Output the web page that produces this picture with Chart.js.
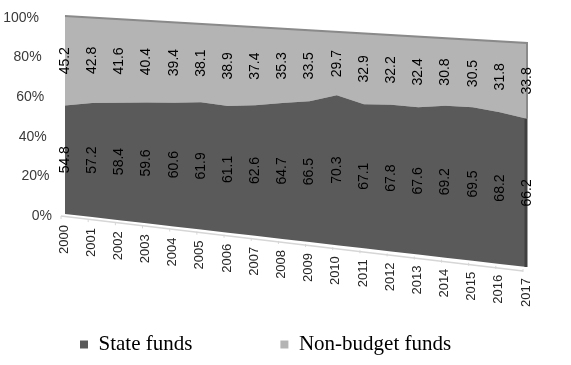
<!DOCTYPE html>
<html>
<head>
<meta charset="utf-8">
<script src="https://cdn.jsdelivr.net/npm/chart.js@4.4.0/dist/chart.umd.min.js"></script>
<style>
    body { margin: 0; background: #ffffff; }
    #grafico-wrap { width: 571px; height: 365px; }
</style>
</head>
<body>
<div id="grafico-wrap"><canvas id="graficoFundos"></canvas></div>
<script>
// Dados do gráfico
var anos = ["2000", "2001", "2002", "2003", "2004", "2005", "2006", "2007", "2008",
    "2009", "2010", "2011", "2012", "2013", "2014", "2015", "2016", "2017"];
var fundosEstatais = [54.8, 57.2, 58.4, 59.6, 60.6, 61.9, 61.1, 62.6, 64.7,
    66.5, 70.3, 67.1, 67.8, 67.6, 69.2, 69.5, 68.2, 66.2];
var fundosExtra = [45.2, 42.8, 41.6, 40.4, 39.4, 38.1, 38.9, 37.4, 35.3,
    33.5, 29.7, 32.9, 32.2, 32.4, 30.8, 30.5, 31.8, 33.8];
// série auxiliar (base zero) para o preenchimento acompanhar o "chão" inclinado
var baseZero = [0, 0, 0, 0, 0, 0, 0, 0, 0, 0, 0, 0, 0, 0, 0, 0, 0, 0];
var ticksY = [0, 20, 40, 60, 80, 100];

// Inclinação da perspectiva (em pixels, no lado direito)
var desnivelTopo = 27;
var desnivelBase = 53;

// Projeta um ponto da área plana para o quadrilátero em perspectiva
function projetar(area, x, y) {
    var u = (x - area.left) / (area.right - area.left);
    var v = (y - area.top) / (area.bottom - area.top);
    var yTopo = area.top + u * desnivelTopo;
    var yBase = area.bottom + u * desnivelBase;
    return { x: x, y: yTopo + v * (yBase - yTopo) };
}

var perspectiva = {
    id: "perspectiva",
    afterDatasetsUpdate: function (chart) {
        var area = chart.chartArea;
        chart.$areaPlana = { left: area.left, right: area.right, top: area.top, bottom: area.bottom };
        chart.data.datasets.forEach(function (ds, i) {
            chart.getDatasetMeta(i).data.forEach(function (pt) {
                var p = projetar(area, pt.x, pt.y);
                pt.x = p.x;
                pt.y = p.y;
            });
        });
    },
    beforeDatasetsDraw: function (chart) {
        var area = chart.$areaPlana;
        var ctx = chart.ctx;
        var xs = chart.scales.x;
        // amplia a área para o preenchimento não ser cortado
        chart.$areaOriginal = chart.chartArea;
        chart.chartArea = {
            left: area.left, right: area.right, top: 0, bottom: chart.height,
            width: area.right - area.left, height: chart.height
        };
        // "chão" claro com marcas
        var a = projetar(area, area.left, area.bottom);
        var b = projetar(area, area.right, area.bottom);
        ctx.save();
        ctx.strokeStyle = "#d6d6d6";
        ctx.lineWidth = 1.5;
        ctx.beginPath();
        ctx.moveTo(a.x - 4, a.y + 2);
        ctx.lineTo(b.x - 4, b.y + 4);
        ctx.stroke();
        ctx.lineWidth = 1;
        for (var i = 0; i < anos.length; i++) {
            var p = projetar(area, xs.getPixelForValue(i), area.bottom);
            ctx.beginPath();
            ctx.moveTo(p.x - 4, p.y + 2);
            ctx.lineTo(p.x - 4, p.y + 5);
            ctx.stroke();
        }
        ctx.restore();
    },
    afterDatasetsDraw: function (chart) {
        chart.chartArea = chart.$areaOriginal;
        var area = chart.$areaPlana;
        var ctx = chart.ctx;
        var xs = chart.scales.x;
        var ys = chart.scales.y;
        var n = anos.length;

        ctx.save();
        // borda superior e lateral direita
        var t0 = projetar(area, area.left, ys.getPixelForValue(100));
        var t1 = projetar(area, area.right, ys.getPixelForValue(100));
        var m1 = projetar(area, area.right, ys.getPixelForValue(fundosEstatais[n - 1]));
        var b1 = projetar(area, area.right, ys.getPixelForValue(0));
        ctx.strokeStyle = "#8a8a8a";
        ctx.lineWidth = 2;
        ctx.beginPath();
        ctx.moveTo(t0.x, t0.y);
        ctx.lineTo(t1.x, t1.y);
        ctx.lineTo(m1.x, m1.y);
        ctx.stroke();
        ctx.strokeStyle = "#404040";
        ctx.lineWidth = 3;
        ctx.beginPath();
        ctx.moveTo(m1.x - 1, m1.y);
        ctx.lineTo(b1.x - 1, b1.y);
        ctx.stroke();

        // rótulos dos valores (girados)
        ctx.fillStyle = "#000000";
        ctx.font = "14px 'Liberation Sans', Arial, sans-serif";
        ctx.textAlign = "center";
        ctx.textBaseline = "middle";
        for (var i = 0; i < n; i++) {
            var x = xs.getPixelForValue(i);
            var pe = projetar(area, x, ys.getPixelForValue(fundosEstatais[i] / 2));
            var px = projetar(area, x, ys.getPixelForValue(fundosEstatais[i] + fundosExtra[i] / 2));
            [[pe, fundosEstatais[i]], [px, fundosExtra[i]]].forEach(function (r) {
                ctx.save();
                ctx.translate(r[0].x, r[0].y);
                ctx.rotate(-Math.PI / 2);
                ctx.fillText(r[1].toFixed(1), 0, 0);
                ctx.restore();
            });
        }

        // rótulos do eixo X (anos)
        ctx.fillStyle = "#262626";
        ctx.font = "13px 'Liberation Sans', Arial, sans-serif";
        ctx.textAlign = "right";
        for (var j = 0; j < n; j++) {
            var p = projetar(area, xs.getPixelForValue(j), area.bottom);
            ctx.save();
            ctx.translate(p.x - 1, p.y + 11);
            ctx.rotate(-Math.PI / 2);
            ctx.fillText(anos[j], 0, 0);
            ctx.restore();
        }

        // rótulos do eixo Y
        ctx.font = "14px 'Liberation Sans', Arial, sans-serif";
        ctx.fillStyle = "#3a3a3a";
        ctx.textAlign = "right";
        ticksY.forEach(function (t) {
            var py = ys.getPixelForValue(t);
            var v = (py - area.top) / (area.bottom - area.top);
            var p = projetar(area, area.left, py);
            ctx.fillText(t + "%", area.left - 26 + 13 * v, p.y + 2);
        });
        ctx.restore();
    }
};

function desenharGrafico() {
    var ctx = document.getElementById("graficoFundos");
    var chart = new Chart(ctx, {
        type: "line",
        data: {
            labels: anos,
            datasets: [
                {
                    label: "base",
                    data: baseZero,
                    borderWidth: 0,
                    pointRadius: 0,
                    fill: false,
                    clip: false
                },
                {
                    label: "State funds",
                    data: fundosEstatais,
                    backgroundColor: "#5a5a5a",
                    borderColor: "#5a5a5a",
                    borderWidth: 0,
                    pointRadius: 0,
                    fill: "-1",
                    clip: false
                },
                {
                    label: "Non-budget funds",
                    data: fundosExtra,
                    backgroundColor: "#b4b4b4",
                    borderColor: "#b4b4b4",
                    borderWidth: 0,
                    pointRadius: 0,
                    fill: "-1",
                    clip: false
                }
            ]
        },
        options: {
            responsive: true,
            maintainAspectRatio: false,
            animation: false,
            layout: { padding: { left: -8, right: 0, top: 16, bottom: 0 } },
            scales: {
                x: {
                    ticks: { display: false },
                    grid: { display: false },
                    border: { display: false },
                    afterFit: function (scale) { scale.height = 32; }
                },
                y: {
                    stacked: true,
                    min: 0,
                    max: 100,
                    ticks: { display: false },
                    grid: { display: false },
                    border: { display: false },
                    afterFit: function (scale) { scale.width = 73; }
                },
                // eixo vazio à direita, só para reservar a margem
                yDireita: {
                    position: "right",
                    ticks: { display: false },
                    grid: { display: false },
                    border: { display: false },
                    afterFit: function (scale) { scale.width = 44; }
                }
            },
            plugins: {
                tooltip: { enabled: false },
                legend: {
                    position: "bottom",
                    align: "start",
                    labels: {
                        boxWidth: 8,
                        boxHeight: 8,
                        padding: 88,
                        color: "#000000",
                        font: { family: "'Liberation Serif', 'Times New Roman', serif", size: 21 },
                        filter: function (item) { return item.datasetIndex > 0; }
                    }
                }
            }
        },
        plugins: [perspectiva]
    });
}

document.addEventListener("DOMContentLoaded", function () {
    desenharGrafico();
});
</script>
</body>
</html>
